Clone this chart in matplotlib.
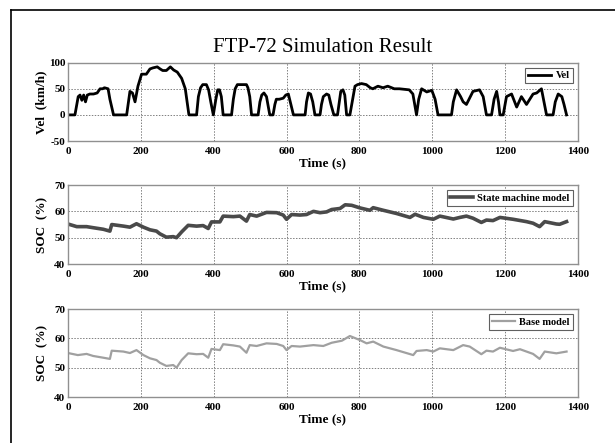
import matplotlib
matplotlib.use("Agg")
import matplotlib.pyplot as plt
from matplotlib.lines import Line2D

# ==========================
# Dados
# ==========================
vel_t = [0, 19, 28, 33, 38, 43, 48, 53, 60, 70, 80, 88, 95, 100, 110, 115, 125,
         161, 170, 177, 184, 192, 202, 215, 225, 233, 245, 253, 260, 270, 281, 290,
         300, 312, 322, 332, 353, 358, 364, 370, 380, 386, 392, 399, 406, 411, 416,
         421, 426, 449, 454, 459, 465, 490, 494, 499, 504, 522, 527, 532, 538, 545,
         550, 554, 563, 568, 572, 580, 591, 598, 605, 612, 619, 651, 655, 660, 666,
         672, 678, 692, 696, 701, 710, 716, 722, 730, 740, 744, 749, 755, 760, 765,
         774, 788, 795, 806, 819, 830, 837, 851, 865, 878, 896, 910, 937, 947,
         957, 963, 971, 985, 999, 1008, 1016, 1053, 1058, 1067, 1078, 1085, 1094,
         1112, 1130, 1140, 1149, 1163, 1170, 1177, 1182, 1186, 1195, 1204, 1218,
         1232, 1245, 1259, 1277, 1287, 1300, 1314, 1332, 1338, 1346, 1356, 1362,
         1369]
vel_v = [0, 0, 35, 38, 28, 38, 25, 38, 40, 40, 42, 50, 50, 52, 50, 30, 0,
         0, 45, 42, 25, 55, 78, 78, 88, 90, 92, 88, 85, 85, 92, 86,
         82, 70, 50, 0, 0, 35, 52, 58, 58, 48, 25, 0, 30, 48, 48,
         35, 0, 0, 30, 50, 58, 58, 52, 35, 0, 0, 25, 38, 42, 35,
         15, 0, 0, 20, 30, 30, 32, 38, 40, 20, 0, 0, 25, 42, 40,
         25, 0, 0, 20, 35, 40, 38, 20, 0, 0, 20, 45, 48, 38, 0,
         0, 55, 58, 60, 58, 52, 50, 55, 52, 55, 50, 50, 48, 40,
         0, 30, 50, 44, 47, 30, 0, 0, 25, 48, 35, 25, 20,
         45, 48, 35, 0, 0, 30, 45, 25, 0, 0, 35, 40,
         15, 35, 20, 40, 42, 50, 0, 0, 25, 40, 35, 20,
         0]

soc_sm_t = [0, 24, 51, 69, 97, 115, 120, 152, 170, 188, 207, 225, 243, 252, 270,
            289, 298, 312, 330, 353, 371, 385, 394, 417, 426, 454, 472, 490, 499,
            518, 545, 573, 591, 600, 614, 637, 655, 674, 692, 710, 724, 747, 761,
            779, 802, 829, 838, 866, 902, 939, 953, 976, 1003, 1021, 1058, 1076,
            1094, 1112, 1135, 1149, 1167, 1186, 1222, 1259, 1277, 1295, 1309, 1341,
            1350, 1369]
soc_sm = [55.2, 54.2, 54.2, 53.8, 53.2, 52.5, 55.0, 54.4, 54.0, 55.3, 54.0, 53.0,
          52.5, 51.5, 50.2, 50.4, 50.0, 52.2, 54.7, 54.4, 54.6, 53.5, 56.0, 56.0,
          58.2, 58.0, 58.2, 56.3, 58.8, 58.2, 59.6, 59.5, 58.6, 57.0, 58.8, 58.6,
          58.8, 60.0, 59.5, 59.8, 60.7, 61.1, 62.5, 62.3, 61.3, 60.4, 61.4, 60.4,
          59.2, 57.7, 58.9, 57.7, 57.0, 58.2, 57.1, 57.7, 58.2, 57.4, 55.8, 56.7,
          56.5, 57.7, 57.0, 56.1, 55.5, 54.2, 56.1, 55.2, 55.1, 56.1]

soc_base_t = [0, 27, 51, 69, 97, 115, 120, 152, 170, 188, 207, 225, 243, 252, 270,
              289, 298, 312, 330, 353, 371, 385, 394, 417, 426, 454, 472, 490, 499,
              518, 545, 573, 591, 600, 614, 637, 674, 701, 724, 752, 774, 802, 820,
              838, 866, 902, 948, 957, 985, 1003, 1021, 1058, 1085, 1103, 1135, 1149,
              1167, 1186, 1222, 1241, 1277, 1295, 1309, 1341, 1369]
soc_base = [55.0, 54.3, 54.7, 54.0, 53.4, 53.0, 55.8, 55.5, 55.0, 56.0, 54.3, 53.2,
            52.6, 51.7, 50.6, 50.9, 50.0, 52.6, 54.9, 54.6, 54.7, 53.4, 56.4, 56.0,
            58.0, 57.6, 57.2, 55.1, 57.7, 57.4, 58.3, 58.1, 57.4, 56.0, 57.4, 57.2,
            57.7, 57.4, 58.5, 59.2, 60.8, 59.4, 58.3, 58.9, 57.2, 56.0, 54.3, 55.7,
            56.0, 55.5, 56.6, 56.0, 57.7, 57.2, 54.6, 55.8, 55.5, 56.8, 55.7, 56.3,
            54.7, 53.0, 55.5, 54.9, 55.5]

# ==========================
# Estilo
# ==========================
plt.rcParams["font.family"] = ["Liberation Serif", "DejaVu Serif"]
plt.rcParams["axes.unicode_minus"] = False
grid_kw = dict(color="#808080", linestyle=(0, (1.5, 1.5)), linewidth=0.7)

fig = plt.figure(figsize=(6.15, 4.43), dpi=100)

ax1 = fig.add_axes([0.1106, 0.6817, 0.829, 0.1768])
ax2 = fig.add_axes([0.1106, 0.4040, 0.829, 0.1783])
ax3 = fig.add_axes([0.1106, 0.1038, 0.829, 0.1986])

ax1.plot(vel_t, vel_v, color="black", linewidth=2.0, label="Vel")
ax2.plot(soc_sm_t, soc_sm, color="#4a4a4a", linewidth=2.6, label="State machine model")
ax3.plot(soc_base_t, soc_base, color="#a0a0a0", linewidth=1.6, label="Base model")

ax1.set_ylim(-50, 100)
ax1.set_yticks([-50, 0, 50, 100])
ax1.set_ylabel("Vel  (km/h)", fontsize=9.5, fontweight="bold", labelpad=1)
for ax in (ax2, ax3):
    ax.set_ylim(40, 70)
    ax.set_yticks([40, 50, 60, 70])
    ax.set_ylabel("SOC  (%)", fontsize=9.5, fontweight="bold", labelpad=4)

for ax in (ax1, ax2, ax3):
    ax.set_xlim(0, 1400)
    ax.set_xticks([0, 200, 400, 600, 800, 1000, 1200, 1400])
    ax.grid(True, **grid_kw)
    ax.set_xlabel("Time (s)", fontsize=9.5, fontweight="bold", labelpad=1)
    for s in ax.spines.values():
        s.set_color("#909090")
        s.set_linewidth(1.0)
    ax.tick_params(axis="x", length=0, pad=4, colors="black")
    ax.tick_params(axis="y", length=0, pad=2, colors="black")
    for lab in ax.get_xticklabels() + ax.get_yticklabels():
        lab.set_fontsize(8)
        lab.set_fontweight("bold")
    leg = ax.legend(loc="upper right", handlelength=2.2,
                    borderpad=0.3, handletextpad=0.4, fancybox=False,
                    framealpha=1, prop=dict(weight="bold", size=7.5))
    leg.get_frame().set_edgecolor("#606060")
    leg.get_frame().set_linewidth(0.8)

fig.text(0.525, 0.893, "FTP-72 Simulation Result", ha="center", va="center",
         fontsize=15)

# moldura externa
y_top = 1 - 10 / 443
x_left = 11 / 615
fig.add_artist(Line2D([x_left, 1], [y_top, y_top], color="black", linewidth=1.2,
                      transform=fig.transFigure))
fig.add_artist(Line2D([x_left, x_left], [y_top, 0], color="black", linewidth=1.2,
                      transform=fig.transFigure))

fig.savefig("out.png", dpi=100)
